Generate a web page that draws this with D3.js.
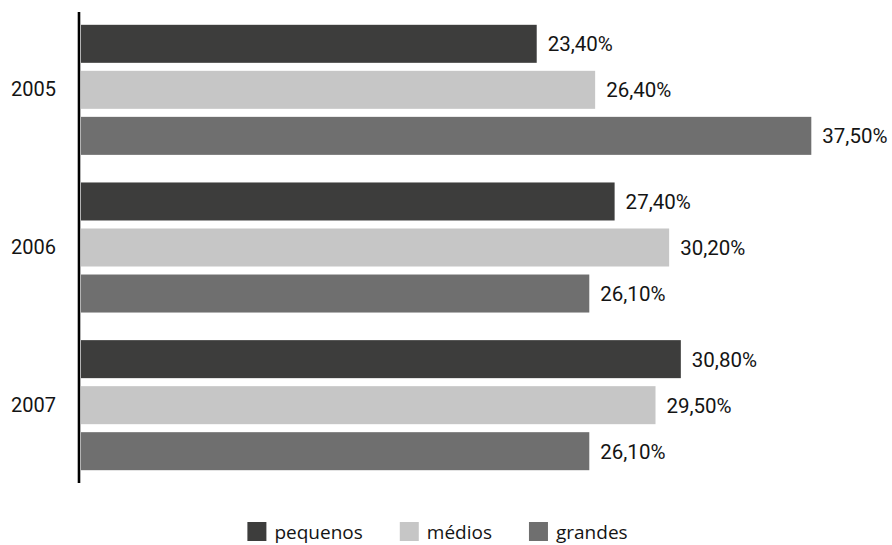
<!DOCTYPE html>
<html>
<head>
<meta charset="utf-8">
<script src="https://cdn.jsdelivr.net/npm/d3@7"></script>
<style>
  html, body { margin: 0; padding: 0; background: #ffffff; }
  svg { display: block; }
</style>
</head>
<body>
<div id="chart"></div>
<script>
// ---- data ----
const years = ["2005", "2006", "2007"];
const seriesNames = ["pequenos", "médios", "grandes"];
const pequenos = [23.4, 27.4, 30.8];
const medios   = [26.4, 30.2, 29.5];
const grandes  = [37.5, 26.1, 26.1];
const seriesColors = ["#3d3d3c", "#c6c6c6", "#6f6f6f"];

const seriesValues = [pequenos, medios, grandes];

const W = 892, H = 545;
const svg = d3.select("#chart").append("svg")
  .attr("width", W).attr("height", H);

const x = d3.scaleLinear().domain([0, 40]).range([81, 860]);
const y0 = d3.scaleBand().domain(years).range([11, 484]).padding(0);
const y1 = d3.scaleBand().domain(seriesNames).range([0, y0.bandwidth()])
  .paddingInner(0.174).paddingOuter(0.3);
const color = d3.scaleOrdinal().domain(seriesNames).range(seriesColors);

const fmt = v => d3.format(".2f")(v).replace(".", ",") + "%";

const rows = [];
years.forEach((yr, i) => {
  seriesNames.forEach((s, j) => {
    rows.push({ year: yr, series: s, value: seriesValues[j][i] });
  });
});

// bars
svg.append("g").selectAll("rect").data(rows).join("rect")
  .attr("x", x(0))
  .attr("y", d => y0(d.year) + y1(d.series))
  .attr("width", d => x(d.value) - x(0))
  .attr("height", y1.bandwidth())
  .attr("fill", d => color(d.series));

// value labels
const labels = svg.append("g").selectAll("text").data(rows).join("text")
  .attr("x", d => x(d.value) + 11)
  .attr("y", d => y0(d.year) + y1(d.series) + y1.bandwidth() / 2)
  .attr("dy", "0.36em")
  .attr("font-family", "Roboto, sans-serif")
  .attr("font-size", 20.5)
  .attr("fill", "#141414")
  .text(d => fmt(d.value));
// keep labels inside the canvas
labels.each(function () {
  const w = this.getComputedTextLength();
  const cx = +this.getAttribute("x");
  if (cx + w > W - 3) this.setAttribute("x", W - 3 - w);
});

// y axis
const yAxis = d3.axisLeft(y0).tickSize(0).tickPadding(23);
const gAxis = svg.append("g").attr("transform", "translate(79,0)").call(yAxis);
gAxis.select(".domain").remove();
gAxis.selectAll("text")
  .attr("font-family", "Roboto, sans-serif")
  .attr("font-size", 20)
  .attr("fill", "#141414");
svg.append("line")
  .attr("x1", 79).attr("x2", 79)
  .attr("y1", 12).attr("y2", 483)
  .attr("stroke", "#000").attr("stroke-width", 2.6);

// legend
const legend = svg.append("g");
const items = legend.selectAll("g").data(seriesNames).join("g");
items.append("rect").attr("x", 0).attr("y", 522).attr("width", 19).attr("height", 19)
  .attr("fill", d => color(d));
items.append("text").attr("x", 27).attr("y", 538.5)
  .attr("font-family", "'Open Sans', sans-serif")
  .attr("font-size", 19)
  .attr("fill", "#141414")
  .text(d => d);
const gap = 37;
const widths = [];
items.each(function () { widths.push(this.getBBox().width); });
const total = d3.sum(widths) + gap * (widths.length - 1);
let cur = 437.5 - total / 2;
items.each(function (d, i) {
  d3.select(this).attr("transform", `translate(${cur},0)`);
  cur += widths[i] + gap;
});
</script>
</body>
</html>
